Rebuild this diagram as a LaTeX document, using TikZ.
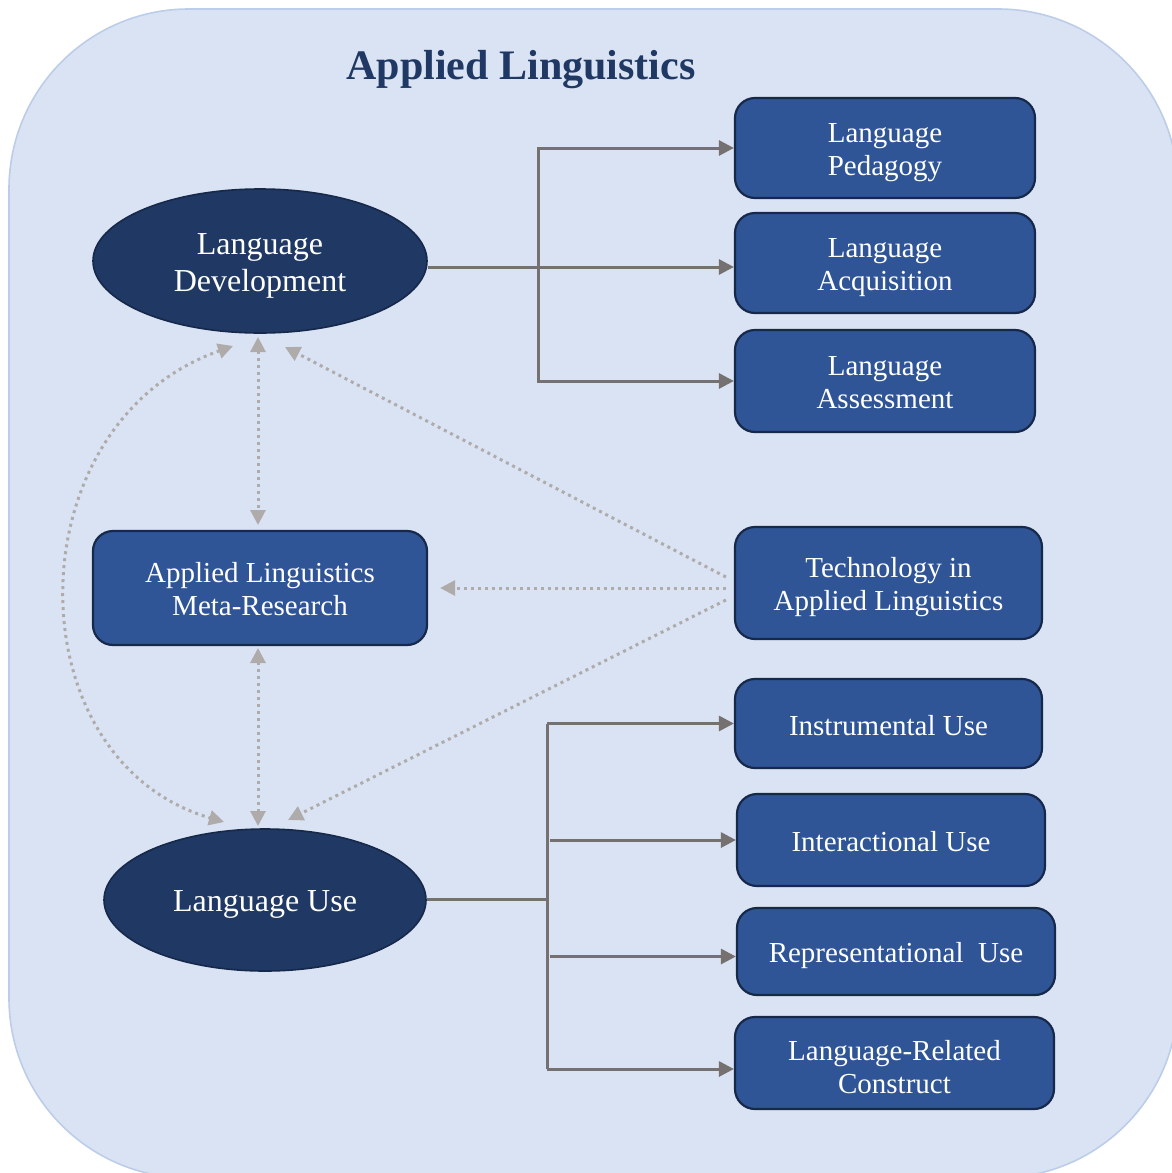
\documentclass[tikz,border=0pt]{standalone}
\usepackage{fontspec}
\setmainfont{Liberation Serif}
\usetikzlibrary{arrows.meta,shapes.geometric,calc}
\definecolor{bgblue}{HTML}{DAE3F3}
\definecolor{bgline}{HTML}{BCCDEA}
\definecolor{navy}{HTML}{1F3864}
\definecolor{navyline}{HTML}{17294A}
\definecolor{boxblue}{HTML}{2F5597}
\definecolor{conngray}{HTML}{767171}
\definecolor{dotgray}{HTML}{AFABAB}
\newcommand{\boxstrut}{\rule{0pt}{14pt}}
\newcommand{\lowstrut}{\rule{0pt}{11.5pt}}
\newcommand{\onestrut}{\rule{0pt}{12pt}}
\newcommand{\ellstrut}{\rule{0pt}{15.5pt}}
\tikzset{
  ellnode/.style={ellipse, fill=navy, draw=navyline, line width=0.8pt, text=white,
    font=\fontsize{16}{18.5}\selectfont, align=center, inner sep=0pt},
  boxnode/.style={rectangle, rounded corners=10pt, fill=boxblue, draw=navyline, line width=1.1pt,
    text=white, font=\fontsize{14.5}{16.5}\selectfont, align=center, inner sep=0pt},
  conn/.style={draw=conngray, line width=1.5pt},
  connarr/.style={conn, -{Triangle[length=7.5pt,width=7.5pt]}},
  dotline/.style={draw=dotgray, line width=1.5pt, dash pattern=on 1.5pt off 2pt},
  dottip/.tip={Triangle[length=7.5pt,width=7.5pt]},
}
\begin{document}
\begin{tikzpicture}[x=0.5pt,y=-0.5pt]
\useasboundingbox (0,0) rectangle (1172,1173);
\path[fill=bgblue, draw=bgline, line width=0.8pt, rounded corners=90pt] (9,9) rectangle (1178,1178);

\node[font=\fontsize{21}{24}\selectfont\bfseries, text=navy] (title) at (521,70) {Applied Linguistics};

\node[ellnode, minimum width=167pt, minimum height=72pt] (LD) at (260,261) {\ellstrut Language\\Development};
\node[ellnode, minimum width=161pt, minimum height=71pt] (LU) at (265,900) {\rule{0pt}{14.5pt}Language Use};
\node[boxnode, minimum width=167pt, minimum height=57pt] (Meta) at (260,588) {\lowstrut Applied Linguistics\\Meta-Research};

\node[boxnode, minimum width=150pt, minimum height=50pt] (Ped) at (885,148) {\boxstrut Language\\Pedagogy};
\node[boxnode, minimum width=150pt, minimum height=50pt] (Acq) at (885,263) {\boxstrut Language\\Acquisition};
\node[boxnode, minimum width=150pt, minimum height=51pt] (Ass) at (885,381) {\lowstrut Language\\Assessment};
\node[boxnode, minimum width=153.5pt, minimum height=56pt] (Tech) at (888.5,583) {\boxstrut Technology in\\Applied Linguistics};
\node[boxnode, minimum width=153.5pt, minimum height=44.5pt] (Instr) at (888.5,723.5) {\onestrut Instrumental Use};
\node[boxnode, minimum width=154pt, minimum height=46pt] (Inter) at (891,840) {\onestrut Interactional Use};
\node[boxnode, minimum width=159pt, minimum height=43.5pt] (Repr) at (896,951.5) {\boxstrut Representational\ \ Use};
\node[boxnode, minimum width=159.5pt, minimum height=46pt] (LRC) at (894.5,1063) {\boxstrut Language-Related\\Construct};

% solid tree connectors
\coordinate (jd) at (538,267);
\draw[conn] (LD.east |- jd) -- (jd);
\draw[connarr] (jd) |- (Ped.west);
\draw[connarr] (jd) -- (jd -| Acq.west);
\draw[connarr] (jd) |- (Ass.west);
\draw[conn] (jd |- Ped.west) -- (jd |- Ass.west);

\coordinate (ju) at (547,899);
\draw[conn] (LU.east |- ju) -- (ju);
\draw[connarr] (ju |- Instr.west) -- (Instr.west);
\draw[connarr] ($(ju |- Inter.west)+(3,0)$) -- (Inter.west);
\draw[connarr] ($(ju |- Repr.west)+(3,5)$) -- ($(Repr.west)+(0,5)$);
\draw[connarr] ($(ju |- LRC.west)+(0,6)$) -- ($(LRC.west)+(0,6)$);
\draw[conn] (ju |- Instr.west) -- ($(ju |- LRC.west)+(0,6)$);

% dotted connectors
\coordinate (ldb) at (258,337);
\coordinate (mt) at (258,525);
\coordinate (mb) at (258,648);
\coordinate (lut) at (258,826);
\draw[dotline, {dottip}-{dottip}] (ldb) -- (mt);
\draw[dotline, {dottip}-{dottip}] (mb) -- (lut);

\coordinate (t1) at ($(Tech.west)+(-8,-6)$);
\coordinate (t2) at ($(Tech.west)+(-8,5)$);
\coordinate (t3) at ($(Tech.west)+(-8,17)$);
\coordinate (ldr) at (285,347);
\coordinate (mr) at ($(Meta.east |- t2)+(12,0)$);
\coordinate (lur) at (288,820);
\draw[dotline, -{dottip}] (t1) -- (ldr);
\draw[dotline, -{dottip}] (t2) -- (mr);
\draw[dotline, -{dottip}] (t3) -- (lur);

\coordinate (ca) at (233,346);
\coordinate (cb) at (224,822);
\draw[dotline, {dottip}-{dottip}] (ca) .. controls (12,424) and (12,760) .. (cb);
\end{tikzpicture}
\end{document}
